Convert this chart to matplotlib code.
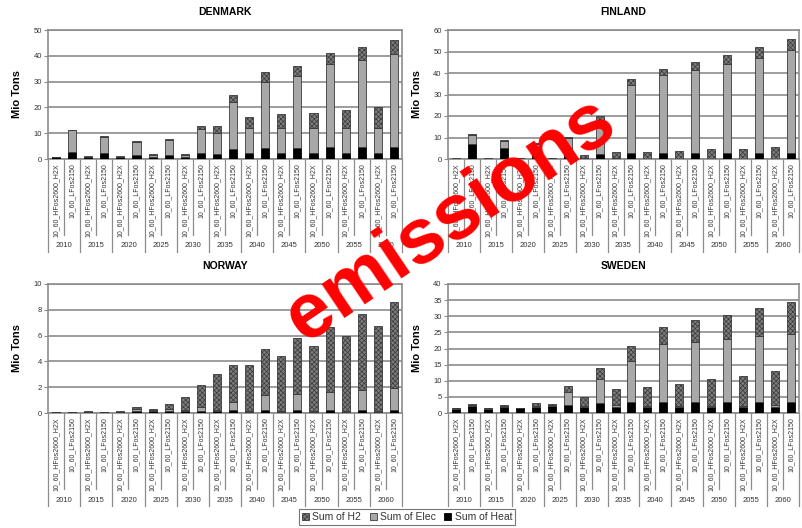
import numpy as np
import matplotlib
matplotlib.use("Agg")
import matplotlib.pyplot as plt
from matplotlib.patches import Patch
from matplotlib.transforms import blended_transform_factory

plt.rcParams['font.family'] = ['Liberation Sans', 'DejaVu Sans']
plt.rcParams['hatch.linewidth'] = 0.5

years = ['2010', '2015', '2020', '2025', '2030', '2035', '2040', '2045', '2050', '2055', '2060']
scenarios = ['10_60_HFos2600_H2X', '10_60_LFos2150']

# segments per bar, order: (HF, LF) for each year
dk_heat = [0.7, 2.6, 0.8, 2.2, 0.8, 1.7, 0.8, 1.7, 0.9, 2.3, 1.8, 3.7, 2.2, 4.1, 2.2, 4.3, 2.2, 4.5, 2.2, 4.5, 2.2, 4.5]
dk_elec = [0.1, 8.5, 0.1, 6.5, 0.1, 5.0, 0.7, 5.6, 0.6, 9.2, 8.4, 18.5, 9.7, 25.9, 9.9, 27.9, 9.9, 32.2, 9.9, 33.9, 9.7, 36.1]
dk_h2 = [0.1, 0.3, 0.2, 0.2, 0.2, 0.3, 0.3, 0.5, 0.3, 1.4, 2.6, 2.6, 4.5, 3.6, 5.2, 4.0, 5.9, 4.3, 6.9, 4.9, 8.1, 5.5]

fi_heat = [0.1, 6.8, 0.1, 5.3, 0.2, 5.4, 0.2, 2.2, 0.3, 2.5, 0.2, 2.8, 0.1, 2.8, 0.1, 2.8, 0.1, 2.8, 0.1, 2.8, 0.1, 2.8]
fi_elec = [0.1, 4.2, 0.1, 2.9, 0.2, 1.8, 0.2, 7.6, 0.2, 14.8, 0.1, 31.6, 0.1, 36.2, 0.1, 38.6, 0.1, 41.4, 0.1, 44.0, 0.1, 47.9]
fi_h2 = [0.1, 0.5, 0.1, 0.5, 0.1, 0.4, 0.1, 0.5, 1.5, 2.6, 2.8, 2.8, 3.2, 2.8, 3.7, 3.7, 4.3, 4.2, 4.6, 5.1, 5.4, 5.3]

no_heat = [0.07, 0.06, 0.1, 0.06, 0.1, 0.15, 0.12, 0.15, 0.15, 0.15, 0.15, 0.2, 0.1, 0.25, 0.1, 0.25, 0.1, 0.25, 0.1, 0.25, 0.1, 0.25]
no_elec = [0.01, 0.01, 0.01, 0.01, 0.01, 0.17, 0.08, 0.15, 0.05, 0.32, 0.05, 0.66, 0.02, 1.13, 0.02, 1.25, 0.02, 1.35, 0.02, 1.52, 0.02, 1.65]
no_h2 = [0.01, 0.01, 0.01, 0.01, 0.01, 0.15, 0.14, 0.38, 1.02, 1.71, 2.84, 2.83, 3.57, 3.58, 4.3, 4.29, 5.08, 5.08, 5.85, 5.89, 6.66, 6.7]

se_heat = [1.35, 2.2, 1.35, 1.8, 1.4, 1.9, 2.3, 2.6, 1.8, 3.1, 1.8, 3.5, 1.8, 3.5, 1.8, 3.5, 1.8, 3.5, 1.8, 3.5, 1.8, 3.5]
se_elec = [0.1, 0.4, 0.1, 0.4, 0.1, 0.3, 0.2, 3.8, 0.4, 7.5, 0.6, 12.7, 0.4, 17.9, 0.4, 18.6, 0.5, 19.6, 0.5, 20.4, 0.7, 21.1]
se_h2 = [0.11, 0.3, 0.11, 0.4, 0.06, 1.0, 0.3, 2.1, 2.7, 3.4, 4.9, 4.5, 5.9, 5.4, 6.9, 6.6, 8.1, 7.4, 9.3, 8.8, 10.4, 9.8]

W, H = 802, 528
fig = plt.figure(figsize=(W / 100, H / 100), dpi=100)

heat_c = 'black'
elec_c = '#a8a8a8'
h2_c = '#7c7c7c'
edge_c = '#3a3a3a'
grid_c = '#8c8c8c'


def px_axes(left, top, right, bottom):
    return fig.add_axes([left / W, 1 - bottom / H, (right - left) / W, (bottom - top) / H])


def draw_country(ax, title, heat, elec, h2, ymax, ystep):
    x = np.arange(len(heat))
    heat = np.array(heat)
    elec = np.array(elec)
    h2 = np.array(h2)
    ax.bar(x, heat, 0.5, color=heat_c, edgecolor='black', linewidth=0.6, zorder=3)
    ax.bar(x, elec, 0.5, bottom=heat, color=elec_c, edgecolor=edge_c, linewidth=0.6, zorder=3)
    ax.bar(x, h2, 0.5, bottom=heat + elec, color=h2_c, edgecolor=edge_c, hatch='xxxxxxx',
           linewidth=0.6, zorder=3)

    ax.set_xlim(-0.5, len(heat) - 0.5)
    ax.set_ylim(0, ymax)
    ax.set_yticks(np.arange(0, ymax + ystep / 2, ystep))
    ax.tick_params(axis='y', labelsize=5.5, length=3, width=0.8, color=grid_c,
                   labelcolor='#333333', pad=1.5)
    ax.yaxis.grid(True, color=grid_c, linewidth=1.2, zorder=0)
    ax.set_axisbelow(True)
    for s in ax.spines.values():
        s.set_color(grid_c)
        s.set_linewidth(1.2)

    labels = scenarios * len(years)
    ax.set_xticks(x)
    ax.set_xticklabels(labels, rotation=90, fontsize=5.0, color='#333333')
    ax.tick_params(axis='x', length=0, pad=3)

    ax.set_title(title, fontsize=7.5, fontweight='bold', pad=11)
    ax.set_ylabel('Mio Tons', fontsize=8, fontweight='bold')
    ax.yaxis.set_label_coords(-26 / 354, 0.5)

    # two level category axis: separators and year labels
    h_px = 129.0
    tr = blended_transform_factory(ax.transData, ax.transAxes)
    for i in range(len(heat) + 1):
        b = i - 0.5
        low = -93 / h_px if i % 2 == 0 else -76 / h_px
        ax.plot([b, b], [0, low], transform=tr, color=grid_c, linewidth=0.9, clip_on=False)
    for j, yr in enumerate(years):
        ax.text(2 * j + 0.5, -87 / h_px, yr, transform=tr, ha='center', va='center',
                fontsize=5.5, color='#333333')


ax_dk = px_axes(48, 30, 402, 159)
draw_country(ax_dk, 'DENMARK', dk_heat, dk_elec, dk_h2, 50, 10)
ax_fi = px_axes(448, 30, 799, 159)
draw_country(ax_fi, 'FINLAND', fi_heat, fi_elec, fi_h2, 60, 10)
ax_no = px_axes(48, 284, 402, 413)
draw_country(ax_no, 'NORWAY', no_heat, no_elec, no_h2, 10, 2)
ax_se = px_axes(448, 284, 799, 413)
draw_country(ax_se, 'SWEDEN', se_heat, se_elec, se_h2, 40, 5)

handles = [Patch(facecolor=h2_c, edgecolor=edge_c, hatch='xxxxxxx', linewidth=0.6),
           Patch(facecolor=elec_c, edgecolor=edge_c, linewidth=0.6),
           Patch(facecolor=heat_c, edgecolor='black', linewidth=0.6)]
leg = fig.legend(handles, ['Sum of H2', 'Sum of Elec', 'Sum of Heat'], loc='center',
                 bbox_to_anchor=(407 / W, 1 - 517 / H), ncol=3, fontsize=7.5,
                 frameon=True, fancybox=False, handlelength=0.7, handleheight=0.7,
                 handletextpad=0.3, columnspacing=0.8, borderpad=0.3, borderaxespad=0)
leg.get_frame().set_edgecolor('#555555')
leg.get_frame().set_linewidth(0.8)
for t in leg.get_texts():
    t.set_color('#333333')

fig.text(450 / W, 1 - 220 / H, 'emissions', color='red', fontsize=56, fontweight='bold',
         rotation=34, ha='center', va='center', rotation_mode='anchor')

fig.savefig('out.png', dpi=100)
